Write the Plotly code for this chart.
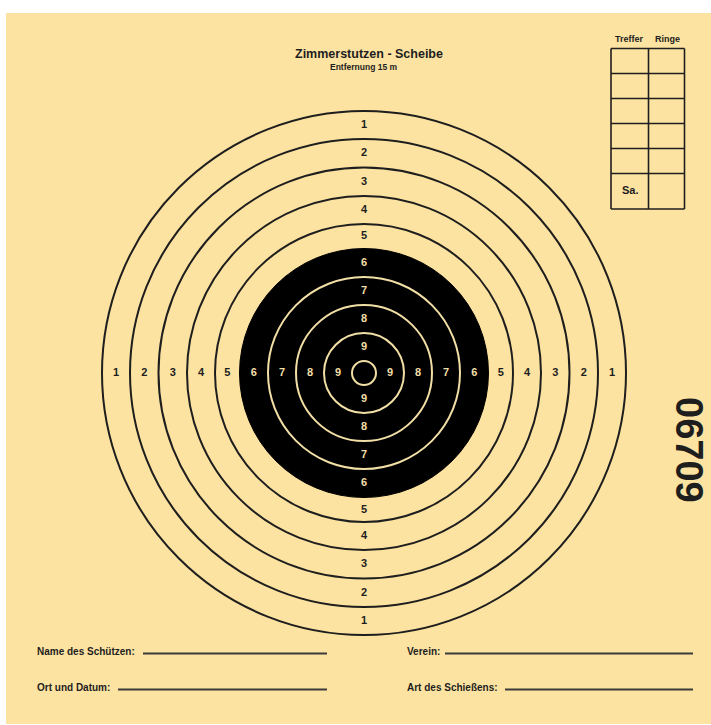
import plotly.graph_objects as go

# ---- data ----
ring_values = [1, 2, 3, 4, 5, 6, 7, 8, 9, 10]
ring_radii = [262, 234, 205.5, 177, 149, 124.5, 96, 68, 40, 12]
black_from_ring = 6
label_rings = [1, 2, 3, 4, 5, 6, 7, 8, 9]

title_text = "Zimmerstutzen - Scheibe"
subtitle_text = "Entfernung 15 m"
table_headers = ["Treffer", "Ringe"]
table_rows = 6
sum_label = "Sa."
serial_number = "06709"
form_fields = ["Name des Schützen:", "Verein:", "Ort und Datum:", "Art des Schießens:"]

# ---- layout constants ----
W, H = 711, 725
CX, CY = 364, 373
YELLOW = "#FDE3A1"
INK = "#1e1e1e"
CREAM = "#F2DFA6"
FONT = "Liberation Sans"

fig = go.Figure()
shapes = []
# card background
shapes.append(dict(type="rect", xref="x", yref="y", x0=6, y0=13, x1=W + 5, y1=H - 1,
                   fillcolor=YELLOW, line=dict(width=0), layer="below"))

# rings
for v, r in zip(ring_values, ring_radii):
    if v == black_from_ring:
        shapes.append(dict(type="circle", xref="x", yref="y", x0=CX - r, x1=CX + r,
                           y0=CY - r, y1=CY + r, fillcolor="black",
                           line=dict(color="black", width=1), layer="below"))
    elif v < black_from_ring:
        shapes.append(dict(type="circle", xref="x", yref="y", x0=CX - r, x1=CX + r,
                           y0=CY - r, y1=CY + r,
                           line=dict(color=INK, width=2), layer="below"))
    else:
        shapes.append(dict(type="circle", xref="x", yref="y", x0=CX - r, x1=CX + r,
                           y0=CY - r, y1=CY + r,
                           line=dict(color=CREAM, width=2), layer="below"))

# ring labels
lx, ly, lt, lc = [], [], [], []
for v in label_rings:
    i = ring_values.index(v)
    mid = (ring_radii[i] + ring_radii[i + 1]) / 2
    col = INK if v < black_from_ring else CREAM
    for dx, dy in [(0, -1), (0, 1), (-1, 0), (1, 0)]:
        lx.append(CX + dx * mid)
        ly.append(CY + dy * mid)
        lt.append(str(v))
        lc.append(col)
fig.add_trace(go.Scatter(x=lx, y=ly, text=lt, mode="text",
                         textfont=dict(family=FONT, size=11, color=lc, weight="bold"),
                         hoverinfo="skip", showlegend=False))

# score table
tx0, tx1, tx2 = 611, 648.5, 684.5
ty_top, ty_bot = 48.5, 209
row_h = 25
for k in range(table_rows):
    y = ty_top + k * row_h
    shapes.append(dict(type="line", xref="x", yref="y", x0=tx0, x1=tx2, y0=y, y1=y,
                       line=dict(color=INK, width=1.6)))
shapes.append(dict(type="line", xref="x", yref="y", x0=tx0, x1=tx2, y0=ty_bot, y1=ty_bot,
                   line=dict(color=INK, width=1.6)))
for x in [tx0, tx1, tx2]:
    shapes.append(dict(type="line", xref="x", yref="y", x0=x, x1=x, y0=ty_top, y1=ty_bot,
                       line=dict(color=INK, width=1.6)))

annotations = []
def ann(text, x, y, size, xanchor="center", angle=0, color=INK):
    annotations.append(dict(text=text, x=x, y=y, xref="x", yref="y", showarrow=False,
                            xanchor=xanchor, yanchor="middle", textangle=angle,
                            font=dict(family=FONT, size=size, color=color, weight="bold")))

ann(title_text, 369, 54, 12.5)
ann(subtitle_text, 364, 67, 8.5)
ann(table_headers[0], (tx0 + tx1) / 2, 39, 9)
ann(table_headers[1], (tx1 + tx2) / 2 + 1, 39, 9)
ann(sum_label, 630, 190, 11)
ann(serial_number, 689, 450, 38, angle=90)

# form fields
field_pos = [(35, 651, 143, 327), (405, 651, 445, 693),
             (35, 687, 118, 327), (405, 687, 505, 693)]
for name, (x, y, l0, l1) in zip(form_fields, field_pos):
    ann(name, x, y, 10, xanchor="left")
    shapes.append(dict(type="line", xref="x", yref="y", x0=l0, x1=l1, y0=y + 2.5, y1=y + 2.5,
                       line=dict(color="#3a3a3a", width=2)))

fig.update_layout(
    width=W, height=H, margin=dict(l=0, r=0, t=0, b=0),
    paper_bgcolor="white", plot_bgcolor="white",
    xaxis=dict(range=[0, W], visible=False, fixedrange=True),
    yaxis=dict(range=[H, 0], visible=False, fixedrange=True),
    shapes=shapes, annotations=annotations, showlegend=False,
)
fig.write_html("out.html", config={"displayModeBar": False},
               post_script="document.body.style.margin='0';document.body.style.overflow='hidden';")
